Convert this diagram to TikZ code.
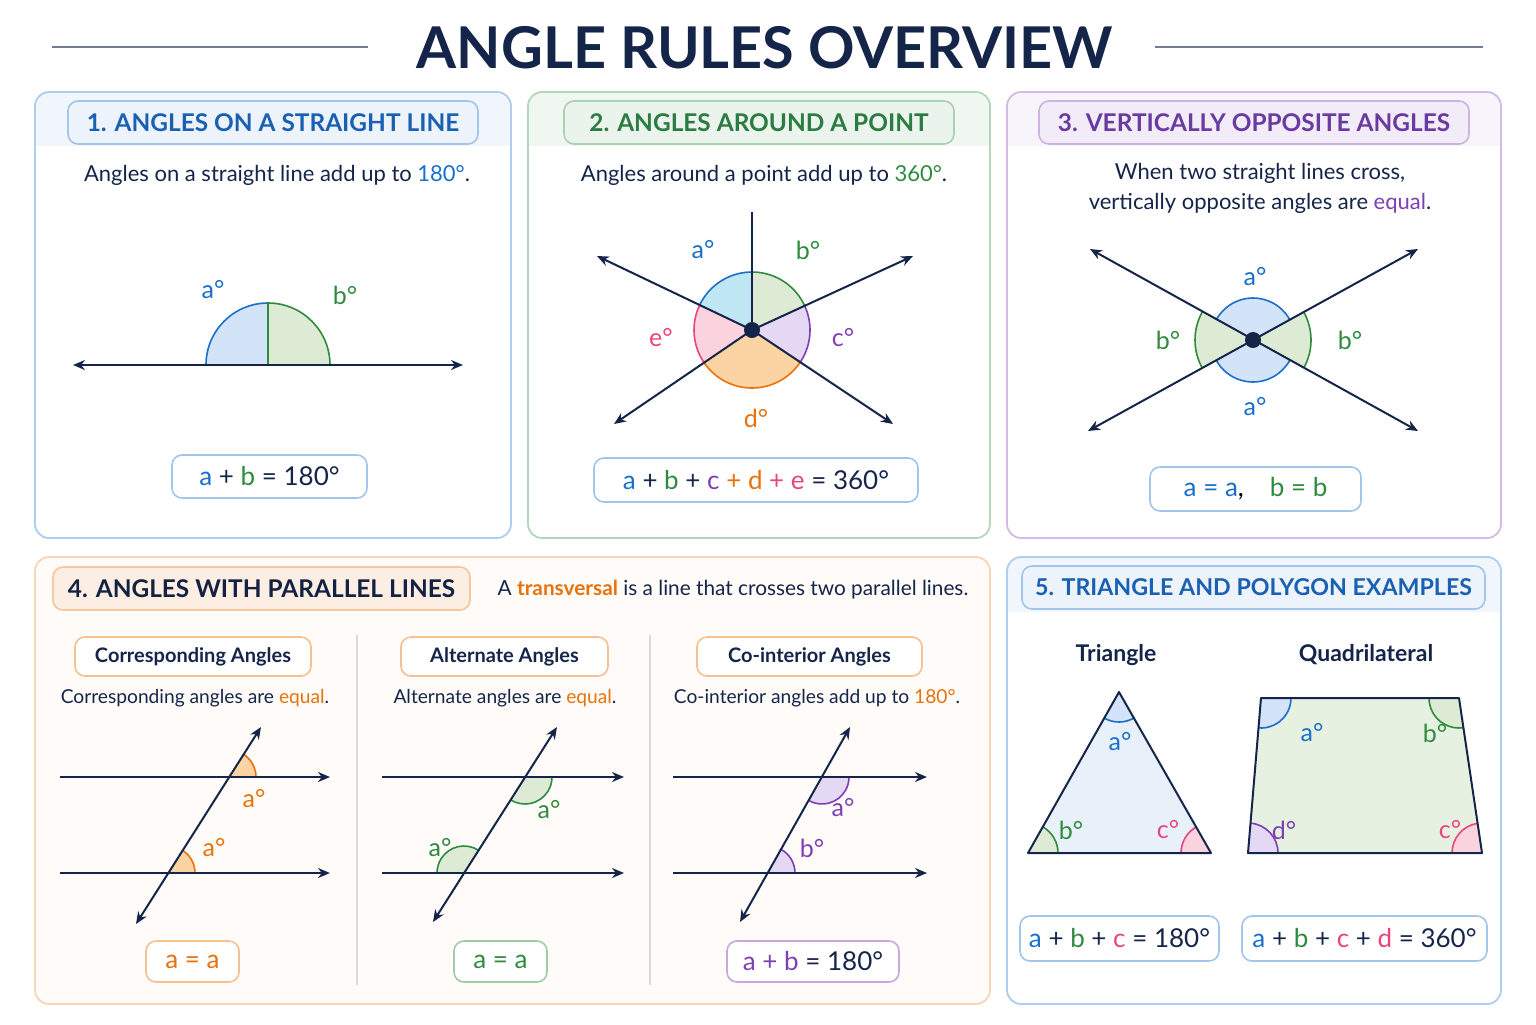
\documentclass[tikz,border=0pt]{standalone}
\usepackage{fontspec}
\setmainfont{Lato}
\usetikzlibrary{arrows.meta}
\definecolor{navy}{HTML}{15254A}
\definecolor{cb}{HTML}{1A6FCC}
\definecolor{cg}{HTML}{2E8B3E}
\definecolor{cp}{HTML}{7E3FB5}
\definecolor{co}{HTML}{E8720C}
\definecolor{ck}{HTML}{E8457A}
\definecolor{lb}{HTML}{D3E4F8}
\definecolor{lg}{HTML}{DDEBD5}
\definecolor{lp}{HTML}{E4D8F4}
\definecolor{lo}{HTML}{FCD3A3}
\definecolor{lk}{HTML}{FAD3DE}
\definecolor{lc}{HTML}{BFE6F3}
\newcommand\fhead{\fontsize{12.2}{15}\selectfont\bfseries}
\newcommand\fheadS{\fontsize{11.6}{15}\selectfont\bfseries}
\newcommand\fbody{\fontsize{11}{15}\selectfont}
\newcommand\fmid{\fontsize{10.4}{15}\selectfont}
\newcommand\fsmall{\fontsize{9.6}{13}\selectfont}
\newcommand\fsub{\fontsize{10}{13}\selectfont\bfseries}
\newcommand\fshape{\fontsize{11.5}{13}\selectfont\bfseries}
\newcommand\fform{\fontsize{13}{15}\selectfont}
\newcommand\flab{\fontsize{12.5}{14}\selectfont}
\newcommand\bx[9]{\draw[fill=#6,draw=#7,rounded corners=5pt,line width=0.8pt] (#2,#3) rectangle (#4,#5);
  \node[font=#9,inner sep=0] (#1) at ({(#2+#4)/2},{(#3+#5)/2}) {#8};}
\newcommand\sect[7]{\fill[#6] (#1,#2) -- ++(#3:#5pt) arc[start angle=#3,end angle=#4,radius=#5pt] -- cycle;
  \draw[#7,line width=0.8pt] (#1,#2) ++(#3:#5pt) arc[start angle=#3,end angle=#4,radius=#5pt];}
\newcommand\panel[7]{\begin{scope}\clip[rounded corners=7pt] (#1,#2) rectangle (#3,#4);
  \fill[#6] (#1,#2) rectangle (#3,#4); \fill[#7] (#1,#2) rectangle (#3,146);\end{scope}
  \draw[#5,rounded corners=7pt,line width=0.9pt] (#1,#2) rectangle (#3,#4);}
\begin{document}
\begin{tikzpicture}[x=0.5pt,y=-0.5pt,
  ln/.style={navy,line width=1pt},
  arr/.style={ln,-{Stealth[length=6pt,width=5pt]}},
  arr2/.style={ln,{Stealth[length=6pt,width=5pt]}-{Stealth[length=6pt,width=5pt]}}]
\useasboundingbox (0,0) rectangle (1536,1024);
\fill[white] (0,0) rectangle (1536,1024);
% title
\node[font=\fontsize{28.8}{32}\selectfont\bfseries,text=navy] (title) at (765,48) {ANGLE RULES OVERVIEW};
\draw[navy!60,line width=1.2pt] (52,47) -- (368,47) (1155,47) -- (1483,47);
% panels
\panel{35}{92}{511}{538}{cb!35}{white}{cb!6}
\panel{528}{92}{990}{538}{cg!35}{white}{cg!7}
\panel{1007}{92}{1501}{538}{cp!35}{white}{cp!6}
\begin{scope}\clip[rounded corners=7pt] (35,557) rectangle (990,1004); \fill[co!3] (35,557) rectangle (990,1004);\end{scope}
\draw[co!30,rounded corners=7pt,line width=0.9pt] (35,557) rectangle (990,1004);
\begin{scope}\clip[rounded corners=7pt] (1007,557) rectangle (1501,1004); \fill[cb!6] (1007,557) rectangle (1501,612);\end{scope}
\draw[cb!35,rounded corners=7pt,line width=0.9pt] (1007,557) rectangle (1501,1004);
% ---------- panel 1
\bx{h1}{68}{101}{478}{144}{cb!8}{cb!40}{\textcolor{cb!80!navy}{1. ANGLES ON A STRAIGHT LINE}}{\fhead}
\node[font=\fbody,text=navy] (t1) at (277,175) {Angles on a straight line add up to \textcolor{cb}{180°}.};
\sect{268}{365}{90}{180}{31}{lb}{cb}
\sect{268}{365}{0}{90}{31}{lg}{cg}
\draw[cg,line width=0.9pt] (268,365) -- (268,303);
\coordinate (l1a) at (73,365); \coordinate (l1b) at (463,365);
\draw[arr2] (l1a) -- (l1b);
\node[font=\flab,text=cb] (la1) at (213,290) {a°};
\node[font=\flab,text=cg] (lb1) at (345,295) {b°};
\bx{f1}{172}{455}{367}{498}{white}{cb!40}{\textcolor{cb}{a} + \textcolor{cg}{b} \textcolor{navy}{= 180°}}{\fform\color{navy}}
% ---------- panel 2
\bx{h2}{564}{101}{954}{144}{cg!10}{cg!40}{\textcolor{cg!85!navy}{2. ANGLES AROUND A POINT}}{\fhead}
\node[font=\fbody,text=navy] (t2) at (764,175) {Angles around a point add up to \textcolor{cg}{360°}.};
\sect{752}{330}{90}{154.5}{29}{lc}{cb}
\sect{752}{330}{25.5}{90}{29}{lg}{cg}
\sect{752}{330}{-34.3}{25.5}{29}{lp}{cp}
\sect{752}{330}{214.3}{325.7}{29}{lo}{co}
\sect{752}{330}{154.5}{214.3}{29}{lk}{ck}
\coordinate (c2) at (752,330);
\coordinate (u2) at (752,212); \coordinate (p1) at (597,256); \coordinate (p2) at (913,256);
\coordinate (p3) at (614,424); \coordinate (p4) at (893,424);
\draw[ln] (c2) -- (u2);
\foreach \p in {p1,p2,p3,p4} \draw[arr] (c2) -- (\p);
\fill[navy] (c2) circle (4pt);
\node[font=\flab,text=cb] (la2) at (703,250) {a°};
\node[font=\flab,text=cg] (lb2) at (808,250) {b°};
\node[font=\flab,text=cp] (lc2) at (843,338) {c°};
\node[font=\flab,text=co] (ld2) at (756,418) {d°};
\node[font=\flab,text=ck] (le2) at (661,338) {e°};
\bx{f2}{594}{458}{918}{502}{white}{cb!40}{\textcolor{cb}{a} + \textcolor{cg}{b} + \textcolor{cp}{c} \textcolor{co}{+ d} \textcolor{ck}{+ e} = 360°}{\fform\color{navy}}
% ---------- panel 3
\bx{h3}{1039}{101}{1469}{144}{cp!10}{cp!40}{\textcolor{cp!80!navy}{3. VERTICALLY OPPOSITE ANGLES}}{\fhead}
\node[font=\fbody,text=navy,align=center] (t3) at (1260,188) {When two straight lines cross,\\vertically opposite angles are \textcolor{cp}{equal}.};
\sect{1253}{340}{151.1}{208.9}{29}{lg}{cg}
\sect{1253}{340}{-28.9}{28.9}{29}{lg}{cg}
\sect{1253}{340}{28.9}{151.1}{21}{lb}{cb}
\sect{1253}{340}{208.9}{331.1}{21}{lb}{cb}
\coordinate (c3) at (1253,340);
\coordinate (q1) at (1090,249); \coordinate (q2) at (1418,249);
\coordinate (q3) at (1088,431); \coordinate (q4) at (1418,431);
\draw[arr2] (q1) -- (q4); \draw[arr2] (q3) -- (q2);
\fill[navy] (c3) circle (4pt);
\node[font=\flab,text=cb] (la3) at (1255,277) {a°};
\node[font=\flab,text=cb] (la3b) at (1255,407) {a°};
\node[font=\flab,text=cg] (lb3) at (1168,340) {b°};
\node[font=\flab,text=cg] (lb3b) at (1350,340) {b°};
\bx{f3}{1150}{467}{1361}{511}{white}{cb!40}{\textcolor{cb}{a = a},\quad\textcolor{cg}{b = b}}{\fform}
% ---------- panel 4
\bx{h4}{53}{567}{470}{610}{co!12}{co!40}{\textcolor{navy!90!black}{4. ANGLES WITH PARALLEL LINES}}{\fhead}
\node[font=\fmid,text=navy] (t4) at (733,590) {A \textcolor{co}{\bfseries transversal} is a line that crosses two parallel lines.};
\draw[gray!30,line width=0.8pt] (357,635) -- (357,985) (650,635) -- (650,985);
% sub 1
\bx{s1}{75}{637}{311}{676}{white}{co!45}{Corresponding Angles}{\fsub\color{navy}}
\node[font=\fsmall,text=navy] (d1) at (195,698) {Corresponding angles are \textcolor{co}{equal}.};
\sect{229}{777}{0}{57.6}{13.5}{lo}{co}
\sect{168}{873}{0}{57.6}{13.5}{lo}{co}
\coordinate (a1) at (60,777); \coordinate (a2) at (330,777);
\coordinate (a3) at (60,873); \coordinate (a4) at (330,873);
\coordinate (a5) at (136,924); \coordinate (a6) at (261,727);
\draw[arr] (a1) -- (a2); \draw[arr] (a3) -- (a4); \draw[arr2] (a5) -- (a6);
\node[font=\flab,text=co] (la4) at (254,799) {a°};
\node[font=\flab,text=co] (la4b) at (214,848) {a°};
\bx{g1}{146}{941}{239}{982}{white}{co!45}{\textcolor{co}{a = a}}{\fform}
% sub 2
\bx{s2}{401}{637}{608}{676}{white}{co!45}{Alternate Angles}{\fsub\color{navy}}
\node[font=\fsmall,text=navy] (d2) at (505,698) {Alternate angles are \textcolor{co}{equal}.};
\sect{525}{777}{237.5}{360}{13.5}{lg}{cg}
\sect{464}{873}{57.5}{180}{13.5}{lg}{cg}
\coordinate (b1) at (382,777); \coordinate (b2) at (624,777);
\coordinate (b3) at (382,873); \coordinate (b4) at (624,873);
\coordinate (b5) at (433,922); \coordinate (b6) at (557,727);
\draw[arr] (b1) -- (b2); \draw[arr] (b3) -- (b4); \draw[arr2] (b5) -- (b6);
\node[font=\flab,text=cg] (la5) at (549,810) {a°};
\node[font=\flab,text=cg] (la5b) at (440,848) {a°};
\bx{g2}{454}{941}{547}{982}{white}{cg!45}{\textcolor{cg}{a = a}}{\fform}
% sub 3
\bx{s3}{697}{637}{922}{676}{white}{co!45}{Co-interior Angles}{\fsub\color{navy}}
\node[font=\fsmall,text=navy] (d3) at (817,698) {Co-interior angles add up to \textcolor{co}{180°}.};
\sect{822}{777}{240.6}{360}{13.5}{lp}{cp}
\sect{768}{873}{0}{60.6}{13.5}{lp}{cp}
\coordinate (e1) at (673,777); \coordinate (e2) at (927,777);
\coordinate (e3) at (673,873); \coordinate (e4) at (927,873);
\coordinate (e5) at (740,922); \coordinate (e6) at (850,727);
\draw[arr] (e1) -- (e2); \draw[arr] (e3) -- (e4); \draw[arr2] (e5) -- (e6);
\node[font=\flab,text=cp] (la6) at (843,808) {a°};
\node[font=\flab,text=cp] (lb6) at (812,848) {b°};
\bx{g3}{727}{941}{899}{982}{white}{cp!45}{\textcolor{cp}{a + b} \textcolor{navy}{= 180°}}{\fform}
% ---------- panel 5
\bx{h5}{1022}{566}{1485}{609}{cb!8}{cb!40}{\textcolor{cb!80!navy}{5. TRIANGLE AND POLYGON EXAMPLES}}{\fheadS}
\node[font=\fshape,text=navy] (tt) at (1116,655) {Triangle};
\node[font=\fshape,text=navy] (tq) at (1366,655) {Quadrilateral};
\coordinate (T1) at (1119,692); \coordinate (T2) at (1028,853); \coordinate (T3) at (1211,853);
\fill[cb!10] (T1) -- (T2) -- (T3) -- cycle;
\sect{1119}{692}{240.5}{299.8}{15}{lb}{cb}
\sect{1028}{853}{0}{60.5}{15}{lg}{cg}
\sect{1211}{853}{119.7}{180}{15}{lk}{ck}
\draw[navy,line width=1pt,line join=round] (T1) -- (T2) -- (T3) -- cycle;
\node[font=\flab,text=cb] (ta) at (1120,742) {a°};
\node[font=\flab,text=cg] (tb) at (1071,830) {b°};
\node[font=\flab,text=ck] (tc) at (1168,830) {c°};
\coordinate (Q1) at (1261,698); \coordinate (Q2) at (1459,698); \coordinate (Q3) at (1482,853); \coordinate (Q4) at (1248,853);
\fill[lg!70] (Q1) -- (Q2) -- (Q3) -- (Q4) -- cycle;
\sect{1261}{698}{265.2}{360}{15}{lb}{cb}
\sect{1459}{698}{180}{278.4}{15}{lg}{cg}
\sect{1482}{853}{98.4}{180}{15}{lk}{ck}
\sect{1248}{853}{0}{85.2}{15}{lp}{cp}
\draw[navy,line width=1pt,line join=round] (Q1) -- (Q2) -- (Q3) -- (Q4) -- cycle;
\node[font=\flab,text=cb] (qa) at (1312,733) {a°};
\node[font=\flab,text=cg] (qb) at (1435,733) {b°};
\node[font=\flab,text=cp] (qd) at (1284,830) {d°};
\node[font=\flab,text=ck] (qc) at (1450,830) {c°};
\bx{f5}{1020}{916}{1219}{961}{white}{cb!40}{\textcolor{cb}{a} + \textcolor{cg}{b} + \textcolor{ck}{c} = 180°}{\fform\color{navy}}
\bx{f6}{1242}{916}{1487}{961}{white}{cb!40}{\textcolor{cb}{a} + \textcolor{cg}{b} + \textcolor{ck}{c} + \textcolor{ck}{d} = 360°}{\fform\color{navy}}
\end{tikzpicture}
\end{document}
